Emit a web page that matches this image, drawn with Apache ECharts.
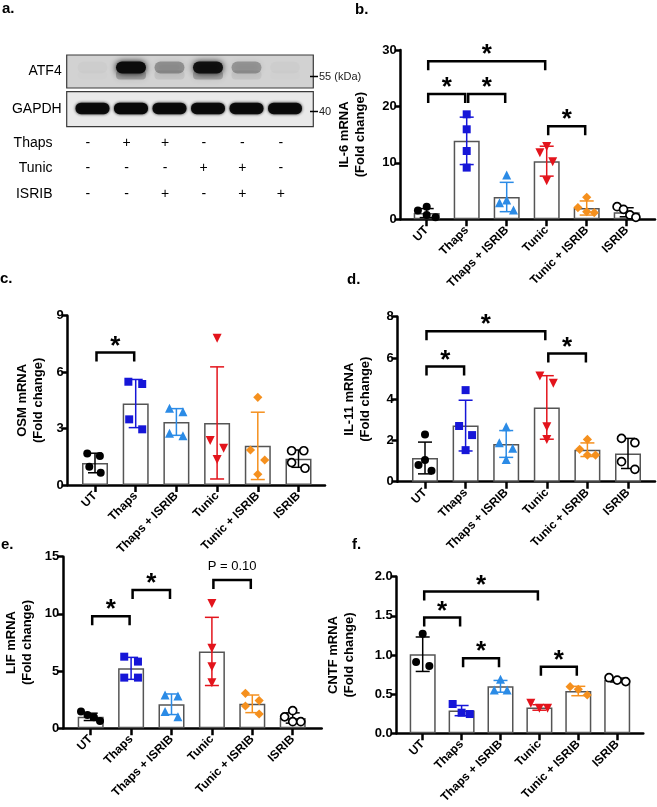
<!DOCTYPE html>
<html>
<head>
<meta charset="utf-8">
<script src="https://cdn.jsdelivr.net/npm/echarts@6/dist/echarts.min.js"></script>
<style>
  html, body { margin: 0; padding: 0; background: #fff; }
  #chart { width: 657px; height: 807px; }
</style>
</head>
<body>
<div id="chart"></div>
<script>
// ---- data ----
const groups = ['UT', 'Thaps', 'Thaps + ISRIB', 'Tunic', 'Tunic + ISRIB', 'ISRIB'];

// a. western blot (relative band intensity per lane) and treatment table
const atf4Intensity = [0.02, 1.0, 0.3, 0.95, 0.28, 0.02];
const gapdhIntensity = [0.95, 1.0, 0.95, 0.95, 0.95, 0.95];
const tableRows = ['Thaps', 'Tunic', 'ISRIB'];
const thapsSigns = ['-', '+', '+', '-', '-', '-'];
const tunicSigns = ['-', '-', '-', '+', '+', '-'];
const isribSigns = ['-', '-', '+', '-', '+', '+'];

// b. IL-6
const il6Mean = [1.1, 13.9, 3.95, 10.3, 2.0, 1.25];
const il6Sd = [0.8, 4.2, 2.6, 2.65, 1.25, 0.8];
const il6Points = [[1.54, 2.24, 0.77, 0.35], [18.6, 15.95, 12.1, 9.16], [7.86, 2.95, 3.43, 1.65], [11.8, 12.9, 10.2, 6.85], [3.9, 2.07, 1.36, 1.18], [2.24, 1.77, 0.77, 0.35]];
const il6PointX = [[-0.22, 0, 0, 0.22], [0, 0, 0, 0], [0, -0.18, 0, 0.17], [-0.17, 0, 0.15, 0], [0, -0.22, 0, 0.19], [-0.24, -0.08, 0.08, 0.23]];
const il6Brackets = [[0, 3, 28.0, '*'], [0, 1, 22.2, '*'], [1, 2, 22.2, '*'], [3, 4, 16.5, '*']];

// c. OSM
const osmMean = [1.17, 4.33, 3.35, 3.3, 2.08, 1.4];
const osmSd = [0.52, 1.28, 0.71, 2.98, 1.79, 0.46];
const osmPoints = [[1.68, 1.54, 0.97, 0.65], [5.49, 5.37, 3.49, 2.96], [4.08, 3.9, 2.75, 2.62], [7.8, 2.36, 1.95, 1.36], [4.66, 1.86, 1.33, 0.57], [1.82, 1.82, 1.19, 0.89]];
const osmPointX = [[-0.19, 0.12, -0.14, 0.14], [-0.18, 0.16, -0.16, 0.16], [-0.17, 0.16, -0.17, 0.16], [0, -0.17, 0.16, 0], [0, -0.18, 0.17, 0], [-0.17, 0.13, -0.17, 0.16]];
const osmBrackets = [[0, 1, 7.05, '*']];

// d. IL-11
const il11Mean = [1.15, 2.72, 1.83, 3.6, 1.55, 1.37];
const il11Sd = [0.77, 1.23, 0.65, 1.54, 0.33, 0.73];
const il11Points = [[2.29, 1.05, 0.81, 0.53], [4.44, 2.7, 2.26, 1.53], [2.67, 1.89, 1.62, 1.08], [5.12, 4.77, 2.67, 2.05], [2.05, 1.57, 1.29, 1.29], [2.1, 1.89, 0.97, 0.6]];
const il11PointX = [[0, 0, -0.16, 0.16], [0, -0.16, 0.16, 0], [0, -0.17, 0.16, 0], [-0.17, 0.16, 0, 0], [0, -0.19, 0, 0.2], [-0.16, 0.17, -0.16, 0.17]];
const il11Brackets = [[0, 3, 7.3, '*'], [0, 1, 5.58, '*'], [3, 4, 6.22, '*']];

// e. LIF
const lifMean = [1.0, 5.24, 2.1, 6.72, 2.14, 0.9];
const lifSd = [0.32, 0.96, 0.9, 2.98, 0.77, 0.45];
const lifPoints = [[1.46, 1.16, 0.96, 0.64], [6.26, 5.83, 4.43, 4.43], [2.91, 2.82, 1.46, 1.02], [10.92, 6.99, 5.39, 3.99], [3.06, 2.42, 1.95, 1.25], [1.0, 1.54, 0.58, 0.58]];
const lifPointX = [[-0.24, -0.08, 0.08, 0.23], [-0.17, 0.17, -0.17, 0.17], [-0.16, 0.16, -0.16, 0.16], [0, 0, 0, 0], [-0.17, 0.17, -0.17, 0.17], [-0.2, 0, 0, 0.2]];
const lifBrackets = [[0, 1, 9.8, '*'], [1, 2, 12.1, '*'], [3, 4, 12.96, 'P = 0.10']];

// f. CNTF
const cntfMean = [1.01, 0.29, 0.6, 0.33, 0.54, 0.68];
const cntfSd = [0.22, 0.065, 0.075, 0.035, 0.06, 0.025];
const cntfPoints = [[1.27, 0.91, 0.86], [0.374, 0.263, 0.246], [0.69, 0.553, 0.553], [0.383, 0.319, 0.319], [0.595, 0.561, 0.489], [0.71, 0.68, 0.66]];
const cntfPointX = [[0, -0.17, 0.17], [-0.23, 0, 0.21], [0, -0.16, 0.17], [-0.22, 0, 0.21], [-0.21, 0, 0.23], [-0.21, 0, 0.22]];
const cntfBrackets = [[0, 3, 1.81, '*'], [0, 1, 1.48, '*'], [1, 2, 0.96, '*'], [3, 4, 0.85, '*']];

// ---- styles ----
const FONT = '"Liberation Sans", Arial, sans-serif';
const groupColors = ['#000000', '#1616d8', '#2b8be6', '#e3141c', '#f5901e', '#000000'];
const groupSymbols = [
  { symbol: 'circle', size: 8, rotate: 0 },
  { symbol: 'rect', size: 8, rotate: 0 },
  { symbol: 'triangle', size: 9, rotate: 0 },
  { symbol: 'triangle', size: 9, rotate: 180 },
  { symbol: 'rect', size: 6.5, rotate: 45 },
  { symbol: 'circle', size: 8, rotate: 0, open: true }
];

const option = {
  animation: false,
  backgroundColor: '#fff',
  textStyle: { fontFamily: FONT },
  grid: [], xAxis: [], yAxis: [], series: [], graphic: []
};

function addPanel(L, yName, mean, sd, points, pointX, brackets) {
  const gi = option.grid.length;
  option.grid.push({ left: L.axisX, top: L.top, width: L.endX - L.axisX, height: L.bottom - L.top });
  const xi = option.xAxis.length;
  const yi = option.yAxis.length;
  option.xAxis.push({
    gridIndex: gi, type: 'value',
    min: (L.axisX - L.first) / L.step, max: (L.endX - L.first) / L.step,
    splitLine: { show: false },
    axisLine: { onZero: false, lineStyle: { color: '#000', width: 2.5 } },
    axisTick: { customValues: [0, 1, 2, 3, 4, 5], length: 7, lineStyle: { color: '#000', width: 2.5 } },
    axisLabel: {
      customValues: [0, 1, 2, 3, 4, 5], formatter: v => groups[Math.round(v)],
      rotate: 45, margin: 9, fontWeight: 'bold', fontSize: 12, color: '#000', fontFamily: FONT
    }
  });
  option.yAxis.push({
    gridIndex: gi, type: 'value', min: 0, max: L.ymax, interval: L.yint,
    name: yName, nameLocation: 'middle', nameGap: L.nameGap, nameRotate: 90,
    nameTextStyle: { fontWeight: 'bold', fontSize: 13, lineHeight: 16, color: '#000', fontFamily: FONT },
    splitLine: { show: false },
    axisLine: { show: true, onZero: false, lineStyle: { color: '#000', width: 2.5 } },
    axisTick: { show: true, length: 6, lineStyle: { color: '#000', width: 2.5 } },
    axisLabel: {
      fontWeight: 'bold', fontSize: 13, color: '#000', margin: 4, fontFamily: FONT,
      formatter: v => (L.digits ? v.toFixed(L.digits) : String(v))
    }
  });

  option.series.push({
    type: 'bar', xAxisIndex: xi, yAxisIndex: yi, z: 2, silent: true,
    barWidth: 26,
    data: mean.map((m, i) => [i, m]),
    itemStyle: { color: '#fff', borderColor: '#555', borderWidth: 1.5 }
  });

  option.series.push({
    type: 'custom', xAxisIndex: xi, yAxisIndex: yi, z: 3, silent: true,
    encode: { x: 0, y: 1 },
    data: mean.map((m, i) => [i, m, sd[i]]),
    renderItem: (params, api) => {
      const x = api.value(0), m = api.value(1), s = api.value(2);
      const top = api.coord([x, m + s]);
      const bot = api.coord([x, m - s]);
      const st = { stroke: groupColors[params.dataIndex], lineWidth: 1.5 };
      return {
        type: 'group', children: [
          { type: 'line', shape: { x1: top[0], y1: top[1], x2: bot[0], y2: bot[1] }, style: st },
          { type: 'line', shape: { x1: top[0] - 7, y1: top[1], x2: top[0] + 7, y2: top[1] }, style: st },
          { type: 'line', shape: { x1: bot[0] - 7, y1: bot[1], x2: bot[0] + 7, y2: bot[1] }, style: st }
        ]
      };
    }
  });

  points.forEach((vals, g) => {
    const s = groupSymbols[g];
    option.series.push({
      type: 'scatter', xAxisIndex: xi, yAxisIndex: yi, z: 4, silent: true,
      symbol: s.symbol, symbolSize: s.size, symbolRotate: s.rotate,
      data: vals.map((v, k) => [g + pointX[g][k], v]),
      itemStyle: s.open
        ? { color: '#fff', borderColor: '#000', borderWidth: 1.7, opacity: 1 }
        : { color: groupColors[g], opacity: 1 }
    });
  });

  option.series.push({
    type: 'custom', xAxisIndex: xi, yAxisIndex: yi, z: 5, silent: true,
    encode: { x: [0, 1], y: 2 },
    data: brackets.map(b => [b[0], b[1], b[2]]),
    renderItem: (params, api) => {
      const a = api.coord([api.value(0), api.value(2)]);
      const b = api.coord([api.value(1), api.value(2)]);
      const x1 = a[0] + 1.5, x2 = b[0] - 1.5, y = a[1];
      const label = brackets[params.dataIndex][3];
      const star = label === '*';
      return {
        type: 'group', children: [
          {
            type: 'polyline',
            shape: { points: [[x1, y + 9], [x1, y], [x2, y], [x2, y + 9]] },
            style: { stroke: '#000', lineWidth: 2.5, fill: 'none' }
          },
          {
            type: 'text', x: (x1 + x2) / 2, y: star ? y - 6 : y - 14,
            style: {
              text: label, fill: '#000', align: 'center', verticalAlign: 'middle',
              font: star ? 'bold 26px ' + FONT : '13px ' + FONT
            }
          }
        ]
      };
    }
  });
}

// ---- panel a: blot ----
function addBlot(top, height, label, intensity, bg, render) {
  const gi = option.grid.length;
  option.grid.push({
    left: 66.7, top: top, width: 246.6, height: height, show: true,
    backgroundColor: bg, borderColor: '#3a3a3a', borderWidth: 1.2
  });
  const xi = option.xAxis.length, yi = option.yAxis.length;
  option.xAxis.push({ gridIndex: gi, type: 'value', min: -0.67, max: 5.735, show: false });
  option.yAxis.push({
    gridIndex: gi, type: 'category', data: [label],
    axisLine: { show: false }, axisTick: { show: false },
    axisLabel: { fontSize: 14, color: '#000', margin: 5, fontFamily: FONT }
  });
  option.series.push({
    type: 'custom', xAxisIndex: xi, yAxisIndex: yi, silent: true,
    encode: { x: 0, y: 1 },
    data: intensity.map((v, i) => [i, 0, v]),
    renderItem: render
  });
}

addBlot(55, 33, 'ATF4', atf4Intensity, '#d2d2d2', (params, api) => {
  const c = api.coord([api.value(0), 0]);
  const v = api.value(2);
  return {
    type: 'group', children: [
      { type: 'rect', shape: { x: c[0] - 15, y: c[1] - 1, width: 30, height: 9, r: 4 },
        style: { fill: 'rgba(60,60,60,' + (v * 0.3) + ')', shadowBlur: 6, shadowColor: 'rgba(60,60,60,' + (v * 0.3) + ')' } },
      { type: 'rect', shape: { x: c[0] - 15, y: c[1] - 10, width: 30, height: 12, r: 6 },
        style: { fill: 'rgba(12,12,12,' + v + ')', shadowBlur: 6, shadowColor: 'rgba(12,12,12,' + v + ')' } }
    ]
  };
});

addBlot(91.7, 35, 'GAPDH', gapdhIntensity, '#e9e9e9', (params, api) => {
  const c = api.coord([api.value(0), 0]);
  const v = api.value(2);
  return {
    type: 'rect', shape: { x: c[0] - 17, y: c[1] - 6.5, width: 34, height: 11.5, r: 5.5 },
    style: { fill: 'rgba(8,8,8,' + v + ')', shadowBlur: 3, shadowColor: 'rgba(8,8,8,' + v + ')' }
  };
});

// treatment table
(function () {
  const gi = option.grid.length;
  option.grid.push({ left: 67, top: 130.25, width: 246, height: 76.5 });
  const xi = option.xAxis.length, yi = option.yAxis.length;
  option.xAxis.push({ gridIndex: gi, type: 'value', min: -0.54, max: 5.83, show: false });
  option.yAxis.push({
    gridIndex: gi, type: 'category', data: tableRows, inverse: true,
    axisLine: { show: false }, axisTick: { show: false },
    axisLabel: { fontSize: 14, color: '#000', margin: 14.5, fontFamily: FONT }
  });
  const signs = [thapsSigns, tunicSigns, isribSigns];
  const flat = [];
  signs.forEach((row, r) => row.forEach((s, i) => flat.push({ lane: i, row: r, sign: s })));
  option.series.push({
    type: 'custom', xAxisIndex: xi, yAxisIndex: yi, silent: true,
    encode: { x: 0, y: 1 },
    data: flat.map(d => [d.lane, d.row]),
    renderItem: (params, api) => {
      const c = api.coord([api.value(0), api.value(1)]);
      return {
        type: 'text', x: c[0], y: c[1],
        style: { text: flat[params.dataIndex].sign, fill: '#000', align: 'center', verticalAlign: 'middle', font: '14px ' + FONT }
      };
    }
  });
})();

// ---- bar panels ----
addPanel({ axisX: 400.7, endX: 655, top: 50, bottom: 219.3, first: 426.7, step: 40, ymax: 30, yint: 10, nameGap: 32 },
  'IL-6 mRNA\n(Fold change)', il6Mean, il6Sd, il6Points, il6PointX, il6Brackets);
addPanel({ axisX: 67.7, endX: 325, top: 315.7, bottom: 485, first: 95, step: 40.7, ymax: 9, yint: 3, nameGap: 21 },
  'OSM mRNA\n(Fold change)', osmMean, osmSd, osmPoints, osmPointX, osmBrackets);
addPanel({ axisX: 397.7, endX: 655, top: 316.7, bottom: 481.7, first: 425, step: 40.6, ymax: 8, yint: 2, nameGap: 24 },
  'IL-11 mRNA\n(Fold change)', il11Mean, il11Sd, il11Points, il11PointX, il11Brackets);
addPanel({ axisX: 63.3, endX: 321.7, top: 556.7, bottom: 728.3, first: 90.7, step: 40.4, ymax: 15, yint: 5, nameGap: 28 },
  'LIF mRNA\n(Fold change)', lifMean, lifSd, lifPoints, lifPointX, lifBrackets);
addPanel({ axisX: 396.7, endX: 643.3, top: 576.7, bottom: 733.3, first: 422.7, step: 38.9, ymax: 2, yint: 0.5, nameGap: 39, digits: 1 },
  'CNTF mRNA\n(Fold change)', cntfMean, cntfSd, cntfPoints, cntfPointX, cntfBrackets);

// ---- panel letters and size markers ----
const letterStyle = { fill: '#000', font: 'bold 15px ' + FONT, verticalAlign: 'top' };
[['a.', 2, 1], ['b.', 355, 2], ['c.', 0, 271], ['d.', 347, 272], ['e.', 1, 537], ['f.', 352, 537]].forEach(l => {
  option.graphic.push({ type: 'text', left: l[1], top: l[2], style: Object.assign({ text: l[0] }, letterStyle) });
});
option.graphic.push(
  { type: 'line', shape: { x1: 310, y1: 76.5, x2: 318, y2: 76.5 }, style: { stroke: '#000', lineWidth: 1.5 } },
  { type: 'line', shape: { x1: 310, y1: 111.5, x2: 318, y2: 111.5 }, style: { stroke: '#000', lineWidth: 1.5 } },
  { type: 'text', x: 319, y: 76.5, style: { text: '55 (kDa)', fill: '#222', font: '11px ' + FONT, verticalAlign: 'middle' } },
  { type: 'text', x: 319, y: 111.5, style: { text: '40', fill: '#222', font: '11px ' + FONT, verticalAlign: 'middle' } }
);

const chart = echarts.init(document.getElementById('chart'), null, { renderer: 'canvas' });
chart.setOption(option);
</script>
</body>
</html>
